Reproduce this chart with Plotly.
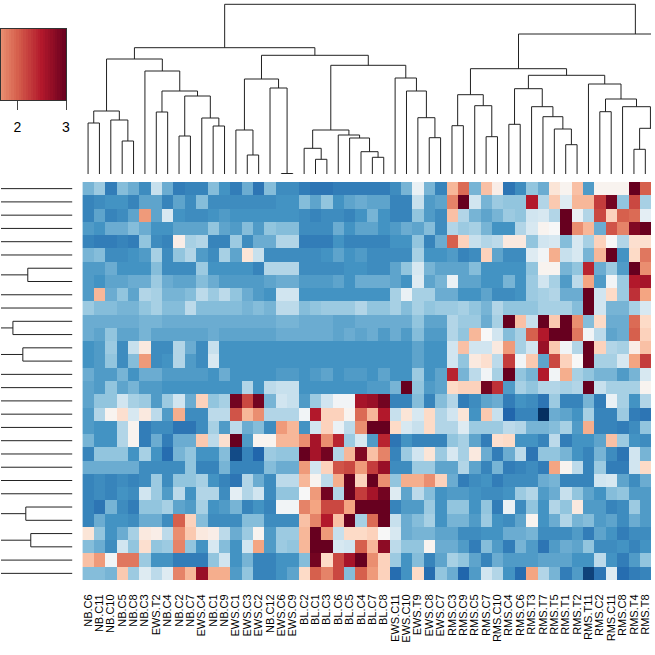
import plotly.graph_objects as go

# column labels, left to right
samples = ["NB.C6", "NB.C11", "NB.C10", "NB.C5", "NB.C8", "NB.C3", "EWS.T2", "NB.C4", "NB.C2", "NB.C7",
           "EWS.C4", "NB.C1", "NB.C9", "EWS.C1", "EWS.C3", "EWS.C2", "NB.C12", "EWS.C6", "EWS.C9", "BL.C2",
           "BL.C1", "BL.C3", "BL.C6", "BL.C5", "BL.C4", "BL.C7", "BL.C8", "EWS.C11", "EWS.C10", "EWS.T9",
           "EWS.C8", "EWS.C7", "RMS.C3", "RMS.C9", "RMS.C5", "RMS.C7", "RMS.C10", "RMS.C4", "RMS.C6", "RMS.T3",
           "RMS.T7", "RMS.T5", "RMS.T1", "RMS.T2", "RMS.T11", "RMS.C2", "RMS.C11", "RMS.C8", "RMS.T4", "RMS.T8"]

# cell shades read off the picture as steps of the palette (-3 darkest blue, 3 darkest red)
# 30 rows, columns 0-16
values_left = [
    [-1.4,-1.1,-2.1,-1.3,-1.5,-1.9,-0.7,-1.5,-2.1,-2.0,-2.0,-1.3,-1.8,-2.1,-1.5,-2.2,-1.3],
    [-2.0,-1.9,-1.8,-1.8,-2.0,-1.6,-1.6,-2.0,-1.6,-1.9,-1.3,-1.9,-1.9,-1.9,-1.9,-1.9,-1.9],
    [-2.0,-1.6,-2.0,-1.9,-1.6,1.3,-1.6,-0.5,-1.8,-1.9,-1.9,-1.8,-1.7,-1.8,-1.8,-1.8,-1.8],
    [-1.7,-1.8,-1.5,-1.5,-1.3,-1.5,-1.8,-1.8,-1.6,-1.6,-1.6,-1.2,-1.6,-1.7,-1.3,-1.7,-1.2],
    [-2.0,-2.1,-2.1,-2.0,-2.1,-1.2,-1.9,-2.0,0.2,-1.0,-0.9,-2.0,-2.0,-1.1,-1.9,-1.5,-1.5],
    [-1.4,-1.3,-1.9,-1.9,-1.8,-1.7,-1.0,-1.9,-1.2,-0.9,-1.7,-1.9,-1.0,-1.6,0.4,-0.7,-1.9],
    [-1.7,-1.7,-1.5,-1.8,-1.8,-1.8,-1.3,-1.9,-1.9,-1.9,-1.1,-1.8,-1.8,-1.8,-1.8,-2.0,-0.9],
    [-1.7,-1.8,-1.6,-1.6,-1.5,-1.5,-1.1,-1.5,-1.6,-1.6,-1.3,-1.5,-1.7,-1.7,-1.7,-1.7,-1.6],
    [-1.7,1.0,-1.5,-1.2,-1.6,-0.9,-1.0,-1.4,-1.4,-1.3,-0.8,-1.1,-0.8,-1.2,-1.5,-1.7,-1.8],
    [-1.1,-1.3,-1.3,-1.4,-1.4,-1.2,-1.0,-1.3,-1.3,-0.8,-1.3,-1.3,-1.3,-1.3,-1.4,-1.3,-1.4],
    [-1.5,-1.5,-1.5,-1.5,-1.5,-1.4,-1.4,-1.5,-1.5,-1.5,-1.5,-1.5,-1.5,-1.5,-1.5,-1.5,-1.5],
    [-1.5,-1.6,-1.2,-1.6,-1.6,-1.4,-1.6,-1.6,-1.6,-1.6,-1.6,-1.5,-1.6,-1.6,-1.6,-1.6,-1.6],
    [-1.8,-1.7,-1.1,-1.9,-0.7,0.3,-1.9,-1.9,-0.9,-1.5,-1.9,-0.7,-1.8,-1.8,-1.8,-1.8,-1.8],
    [-1.8,-1.7,-1.2,-1.9,-1.3,1.3,-1.9,-1.8,-0.9,-1.7,-1.9,-0.5,-1.8,-1.8,-1.8,-1.8,-1.8],
    [-1.5,-1.7,-1.7,-1.4,-1.8,-1.5,-1.5,-1.7,-1.7,-1.7,-1.7,-1.8,-1.5,-1.8,-1.8,-1.8,-1.8],
    [-1.6,-1.7,-1.2,-1.6,-1.4,-1.7,-1.7,-1.8,-1.8,-1.8,-1.8,-1.8,-1.8,-1.8,-0.9,-1.8,-0.8],
    [-1.6,-1.2,-1.2,-0.6,-1.0,-1.1,-1.7,-1.1,-0.6,-1.5,0.7,-1.2,-1.0,2.9,2.0,2.9,-1.4],
    [-1.7,-0.9,0.1,0.5,-0.5,0.3,-0.8,-1.7,1.1,-1.9,-1.9,-0.8,-0.8,1.9,1.0,1.4,-0.9],
    [-1.7,-1.8,-1.8,-0.9,0.1,-2.1,-1.9,-1.9,-2.2,-2.2,-1.9,-1.0,-1.7,-0.8,-1.5,-1.3,-1.9],
    [-1.4,-1.8,-1.8,-0.9,0.1,-2.1,-1.5,-2.1,-1.5,-1.5,0.8,-0.8,0.5,3.0,-1.7,0.1,0.1],
    [-2.0,-1.2,-1.2,-1.2,-1.8,-1.0,-1.8,-2.3,-1.4,-1.2,-1.8,-1.8,-1.3,-2.7,-2.0,-2.4,-1.1],
    [-1.5,-1.5,-1.5,-1.5,-1.5,-1.9,-1.9,-1.9,-1.9,-1.2,-2.0,-2.0,-1.4,-2.0,-2.0,-2.0,-1.3],
    [-2.0,-1.9,-2.0,-1.9,-2.0,-1.9,-1.1,-1.9,-1.2,-1.2,-1.0,-1.8,-2.0,-2.2,-0.9,-1.5,-1.9],
    [-2.0,-1.9,-2.0,-1.8,-1.9,-0.6,-1.1,-1.7,-0.8,-1.8,-0.9,-0.9,-1.9,-0.3,-0.9,-0.6,-1.9],
    [-2.0,-2.2,-1.4,-1.9,-2.1,-1.2,-1.2,-1.0,-1.6,-1.7,-1.0,-1.8,-1.7,-1.4,-2.0,-1.8,-2.0],
    [-2.0,-1.5,-1.8,-1.8,-1.9,-1.5,-1.5,-1.9,1.8,0.7,-1.3,-1.9,-1.9,-1.9,-1.3,-1.3,-1.9],
    [0.4,-1.2,-1.8,-1.5,-1.0,0.3,0.2,-0.8,1.4,0.8,0.3,0.2,-0.8,-1.5,-1.1,0.1,-1.7],
    [-1.3,-1.5,-1.9,-0.6,-1.2,0.5,-1.2,-1.1,1.5,-1.2,-1.8,-0.5,-1.3,-1.8,-0.6,1.2,-1.7],
    [0.9,1.3,-0.1,1.6,1.6,-1.1,-1.8,-1.8,-2.1,-2.1,-2.1,-1.2,-0.6,-1.8,-1.4,-2.0,-2.0],
    [-1.3,-1.3,-1.4,0.8,-1.1,-0.4,-0.8,-0.4,1.5,1.0,2.6,1.1,1.1,-1.7,-1.2,-2.0,-2.0],
]

# columns 17-32
values_mid = [
    [-1.9,-1.9,-2.1,-2.2,-2.2,-2.1,-2.1,-2.1,-2.1,-2.1,-1.9,-1.4,-0.2,-1.4,-2.0,1.0],
    [-1.8,-1.8,-1.3,-1.6,-1.2,-1.8,-1.6,-1.5,-1.6,-1.6,-2.0,-2.0,-0.7,-1.7,-1.6,1.5],
    [-1.8,-1.8,-1.9,-2.0,-1.9,-1.9,-2.0,-1.8,-1.4,-1.8,-2.0,-2.0,-1.2,-1.7,-1.9,0.9],
    [-1.3,-1.3,-1.9,-1.9,-1.9,-1.5,-1.8,-1.6,-1.6,-1.8,-1.7,-1.5,-1.6,-1.3,-1.9,-0.9],
    [-0.9,-0.9,-2.1,-2.1,-2.1,-1.8,-2.0,-2.0,-2.0,-2.0,-1.8,-1.8,-1.2,-2.0,-1.5,1.8],
    [-1.9,-1.9,-1.9,-1.9,-1.8,-1.6,-1.8,-1.7,-1.9,-1.9,-1.9,-1.9,-1.0,-1.8,-1.8,-1.7],
    [-0.9,-0.9,-1.9,-1.9,-1.9,-1.9,-1.8,-1.8,-1.9,-1.9,-1.6,-1.2,-0.5,-1.4,-1.6,-1.6],
    [-1.5,-1.5,-1.7,-1.7,-1.7,-1.6,-1.8,-1.5,-1.5,-1.5,-1.6,-1.8,-0.4,-1.6,-1.4,-0.2],
    [-0.6,-0.6,-1.8,-1.8,-1.8,-1.8,-1.8,-1.8,-1.8,-1.8,-1.0,-0.2,-1.0,-1.0,-1.5,-1.5],
    [-0.8,-0.8,-1.3,-1.2,-1.1,-1.1,-1.1,-0.9,-1.2,-1.2,-1.0,-1.3,-1.0,-1.2,-1.1,-1.1],
    [-1.4,-1.4,-1.5,-1.5,-1.5,-1.6,-1.6,-1.5,-1.5,-1.5,-1.5,-1.5,-1.2,-1.6,-1.6,-0.9],
    [-1.5,-1.5,-1.5,-1.5,-1.5,-1.6,-1.5,-1.6,-1.5,-1.7,-1.5,-1.7,-1.3,-1.7,-1.7,-0.9],
    [-1.8,-1.8,-1.8,-1.8,-1.8,-1.8,-1.8,-1.8,-1.8,-1.8,-1.8,-1.8,-1.6,-1.8,-1.8,-0.6],
    [-1.8,-1.8,-1.8,-1.8,-1.8,-1.8,-1.8,-1.8,-1.8,-1.8,-1.8,-1.8,-1.6,-1.8,-1.8,-0.6],
    [-1.7,-1.7,-1.8,-1.7,-1.6,-1.8,-1.7,-1.7,-1.8,-1.6,-1.8,-1.8,-1.1,-1.8,-1.6,2.3],
    [-0.7,-0.7,-1.8,-1.8,-1.8,-1.8,-1.8,-1.8,-1.7,-1.7,-1.4,3.0,-1.2,-1.7,-1.6,0.6],
    [-0.6,-0.7,-1.7,-1.1,-0.6,-0.1,-0.1,2.5,2.6,2.9,-2.0,-2.0,-1.3,-2.0,-1.3,-0.9],
    [-0.9,-0.9,-0.1,2.4,0.7,0.7,0.1,1.7,1.0,2.4,-0.7,0.4,-0.5,0.6,-0.9,-0.6],
    [1.3,1.0,-1.8,-0.6,0.7,-0.2,-0.8,1.4,3.0,3.0,0.6,-0.5,-0.7,0.6,-0.9,-0.9],
    [1.0,1.0,1.4,2.5,1.4,2.3,-1.1,-0.5,-1.7,2.3,-2.2,-1.8,-2.0,-2.0,-2.0,-1.2],
    [-1.2,-1.2,3.0,2.5,2.9,-0.9,1.0,2.8,0.9,1.5,-2.0,-1.1,-0.6,0.4,-1.1,-0.5],
    [-1.5,-1.5,1.3,-0.6,0.7,1.9,2.0,1.3,2.1,2.6,-1.9,-1.9,-1.1,-1.1,-1.6,-1.6],
    [-0.8,-0.8,1.0,0.1,-0.8,1.1,3.0,0.7,3.0,1.4,-1.2,1.1,1.1,1.4,0.7,-1.5],
    [-1.2,-1.2,0.0,1.3,2.9,-0.9,3.0,2.1,2.5,2.9,-0.4,-1.6,-0.8,-1.3,-1.8,-1.7],
    [-0.1,-0.1,1.5,1.2,2.0,2.0,1.2,3.0,3.0,3.0,-2.0,-1.7,-1.7,-1.1,-1.8,-1.2],
    [-1.9,-1.9,0.9,1.5,2.4,0.9,3.0,-1.0,1.7,3.0,-0.7,-1.5,-1.3,-1.0,-1.8,-1.4],
    [-1.1,-1.1,1.0,3.0,1.3,-0.7,0.6,0.6,0.7,0.0,-0.5,-1.5,-1.4,-1.4,-1.6,-1.6],
    [-1.1,-1.2,1.0,3.0,3.0,-0.5,-0.6,1.8,1.0,2.7,-0.8,-1.2,-1.2,0.1,-1.5,-1.5],
    [-1.8,-1.8,-1.3,2.9,0.6,2.0,2.5,3.0,1.4,0.7,-1.1,-1.8,-1.3,-2.0,-1.6,-1.0],
    [-1.8,-1.6,0.6,1.8,1.5,2.0,-1.3,1.8,1.3,0.7,-2.3,-1.8,0.6,-2.3,-1.2,-1.5],
]

# columns 33-49
values_right = [
    [1.7,-1.4,0.9,0.2,-2.2,-1.9,-1.2,-1.5,0.4,0.1,0.9,-1.7,0.1,0.1,0.1,3.0,1.8],
    [3.0,-0.6,-1.4,-1.1,-1.2,-1.2,2.4,-0.9,0.8,-0.4,1.0,1.0,2.1,2.9,-1.2,2.0,-1.0],
    [-0.9,-1.4,-1.6,-1.4,-1.1,-1.2,-0.6,-0.5,-0.9,3.0,-0.2,-0.9,2.0,0.7,1.8,1.7,-0.3],
    [-1.1,-1.0,-1.4,-1.8,-1.8,-0.9,-0.5,0.1,0.0,3.0,1.4,1.0,-1.5,1.9,1.5,2.8,3.0],
    [0.7,-0.7,-0.9,-0.8,0.3,0.3,-1.2,-0.6,-0.5,-1.3,-0.5,-1.0,0.7,0.0,-0.9,0.5,0.5],
    [-2.0,-1.9,0.7,-1.6,-1.9,-1.9,-0.4,-0.1,1.1,-0.7,-0.5,-1.4,1.0,3.0,-1.8,0.6,1.6],
    [-1.6,-1.3,-1.8,-1.8,-1.8,-1.8,-1.2,0.1,0.1,-1.4,-1.2,2.3,-1.5,-1.1,-1.7,3.0,1.4],
    [-1.6,-1.6,-1.8,-1.8,-1.4,-1.8,-1.1,-0.6,-1.0,-1.7,-0.8,1.2,-1.7,-0.1,-1.1,2.4,2.5],
    [-1.8,-1.8,-1.6,-1.9,-1.9,-1.8,-1.1,-1.0,-0.9,-1.5,-1.5,3.0,-0.6,0.6,-1.1,2.2,1.2],
    [-1.0,-1.2,-1.4,-0.9,-1.2,-1.2,-1.2,-1.0,-1.0,-1.0,-1.3,3.0,-0.6,-1.4,-1.4,-1.0,-0.5],
    [-1.1,-1.1,-1.5,-1.0,3.0,0.9,-0.7,3.0,0.8,3.0,1.4,-1.3,0.6,-1.5,-1.5,1.7,0.6],
    [-1.2,1.0,0.0,-0.6,-1.3,-1.0,1.8,2.4,3.0,3.0,1.6,-0.1,-0.8,-1.6,-1.5,1.8,0.7],
    [0.9,-0.6,-0.6,0.3,1.3,-1.0,-0.6,2.6,0.8,-0.1,-0.9,3.0,0.7,-0.9,-1.0,0.2,0.9],
    [-1.2,0.3,0.5,-0.8,2.1,-0.1,0.8,-1.6,2.0,0.7,0.0,3.0,-1.0,-1.0,-0.5,1.2,2.1],
    [-1.4,-0.8,-0.1,-1.0,3.0,-1.2,-1.4,2.4,-0.1,1.1,-1.0,-1.2,-1.4,-1.4,-1.7,-1.4,-0.5],
    [0.7,0.7,2.9,2.2,-1.7,-1.0,-1.2,-0.9,-0.9,-1.0,-0.9,3.0,-0.7,-1.0,-1.0,-1.0,0.1],
    [-2.1,-1.9,-1.6,-1.5,-2.1,-1.8,-1.9,-2.2,-1.1,-2.0,-2.0,-1.4,-2.1,-0.2,-1.0,-1.8,-0.9],
    [0.4,-1.8,0.8,-0.7,-2.4,-2.0,-2.0,-3.0,-1.5,-1.6,-1.8,-1.0,-2.0,-2.0,-1.1,-2.1,-2.2],
    [-0.4,-1.1,-1.1,-1.1,-0.8,-0.9,-1.4,-1.4,-1.3,-1.0,-1.7,1.1,-2.0,-2.0,-2.1,-1.9,-1.2],
    [-1.0,-1.6,-2.1,0.5,0.6,-1.8,-1.8,-2.0,-0.8,-2.1,-1.8,-1.8,-1.6,0.9,-1.1,-1.8,-1.9],
    [-1.0,0.3,-1.5,-2.1,-1.5,-0.8,-2.2,-1.2,-1.2,-1.4,-1.8,-2.0,-1.4,-1.9,-2.2,-0.6,-1.4],
    [-0.9,-1.6,-2.0,-1.4,-2.1,-2.0,-1.9,-2.1,1.2,0.1,-0.8,-2.0,-1.1,-2.1,-2.1,-0.6,0.6],
    [-2.1,-1.9,-1.8,-2.1,-1.9,-1.9,-1.9,-1.5,-1.4,-2.0,-2.0,-2.0,-0.6,-0.5,-1.6,-1.9,-1.5],
    [-1.7,-1.8,-1.9,-1.9,-1.8,-1.1,-0.9,-1.7,-1.5,-0.7,-1.2,-1.6,-1.8,-1.3,-1.2,-1.7,-1.7],
    [-1.2,-1.8,-1.2,-2.1,-0.2,-1.9,-1.2,-1.8,-0.9,-1.2,0.3,-1.7,-1.7,-2.0,-1.9,-1.1,-1.7],
    [-1.4,-1.7,-1.1,-1.8,-1.9,-1.6,0.1,-1.8,-1.5,-0.9,-1.4,-1.3,-1.7,-1.6,-1.9,-1.5,-1.7],
    [-1.9,-1.9,-1.8,-1.8,-1.5,-1.5,-1.4,-1.9,-1.9,-1.9,-1.7,-2.1,-1.6,-1.8,-2.1,-1.9,-1.9],
    [-1.7,-2.1,-1.3,-1.7,-2.1,-1.4,-1.7,-2.2,-1.7,-1.5,-1.6,-1.2,-1.9,-1.9,-1.8,-2.0,-1.8],
    [-1.2,-1.6,-2.0,-1.5,-1.7,-1.7,-1.7,-1.6,-1.6,-1.6,-1.8,-1.8,-0.8,-1.8,-2.1,-1.7,-1.2],
    [-2.4,-1.7,-0.6,-0.9,-1.8,-2.3,1.2,-0.9,-1.4,-2.1,-1.7,-2.8,-2.2,-0.4,-2.3,-2.1,-2.0],
]

# column tree. Leaf positions: 0-49 are the visible columns, the last two are
# clusters that sit past the right edge of the picture. Ids from 52 up are merges.
col_leaf_pos = list(range(50)) + [50.4, 58.4]
col_merge_a = [0, 3, 2, 52, 6, 8, 11, 10, 57, 56, 5, 55, 14, 13, 17, 16, 65,
               20, 19, 25, 24, 23, 22, 70, 30, 29, 28, 27, 75, 68, 63,
               32, 35, 34, 83, 37, 42, 41, 40, 39, 87, 45, 48, 94, 47, 93, 44, 92, 86, 100, 82]
col_merge_b = [1, 4, 53, 54, 7, 9, 12, 58, 59, 60, 61, 62, 15, 64, 18, 66, 67,
               21, 69, 26, 71, 72, 73, 74, 31, 76, 77, 78, 79, 80, 81,
               33, 36, 84, 85, 38, 43, 88, 89, 90, 91, 46, 49, 50, 95, 96, 97, 98, 99, 51, 101]
col_merge_h = [51, 33, 54, 63, 62, 38, 48, 56, 78, 83, 103, 115, 19, 44, 0.5, 86, 95,
               14.7, 25.7, 16.7, 22.3, 36, 39, 44, 36.3, 56.3, 83, 96, 108.7, 118.7, 126.3,
               48.3, 37.3, 68.3, 79.3, 49.7, 29.3, 45, 57.3, 67.3, 85.3, 62.3, 24.7, 45.7, 67.3, 75, 90, 98.7,
               105.3, 140, 169.7]

# row tree, only the merges that fall inside the picture; the rest runs off to the left
row_leaf_pos = list(range(30))
row_merge_a = [6, 10, 12, 26, 24]
row_merge_b = [7, 11, 13, 27, 25]
row_merge_h = [45, 60, 50, 42, 47]


def tree_paths(leaf_pos, merge_a, merge_b, merge_h, stub=None):
    n = len(leaf_pos)
    pos = {i: float(p) for i, p in enumerate(leaf_pos)}
    hgt = {i: 0.0 for i in range(n)}
    used = set()
    xs, ys = [], []
    for k, (a, b, h) in enumerate(zip(merge_a, merge_b, merge_h)):
        xs += [pos[a], pos[a], pos[b], pos[b], None]
        ys += [hgt[a], h, h, hgt[b], None]
        pos[n + k] = (pos[a] + pos[b]) / 2
        hgt[n + k] = h
        used.update([a, b])
    if stub is not None:
        for i in pos:
            if i not in used:
                xs += [pos[i], pos[i], None]
                ys += [hgt[i], stub, None]
    return xs, ys


# the key runs from about -2 to 3 with white at 0.5, so shade steps are rescaled to key units
matrix = [[round(0.5 + v * 2.5 / 3, 2) for v in a + b + c] for a, b, c in zip(values_left, values_mid, values_right)]

rdbu = ["#053061", "#2166AC", "#4393C3", "#92C5DE", "#D1E5F0", "#F7F7F7",
        "#FDDBC7", "#F4A582", "#D6604D", "#B2182B", "#67001F"]
colorscale = [[i / 10, c] for i, c in enumerate(rdbu)]

key_levels = [1.65, 1.7, 1.75, 1.8, 1.85, 1.9, 1.95, 2.0, 2.05, 2.1, 2.15, 2.2, 2.25, 2.3, 2.35, 2.4,
              2.45, 2.5, 2.55, 2.6, 2.65, 2.7, 2.75, 2.8, 2.85, 2.9, 2.95, 3.0]

fig = go.Figure()
fig.add_trace(go.Heatmap(z=matrix, x=list(range(50)), y=list(range(30)), zmin=-2, zmax=3,
                         colorscale=colorscale, showscale=False))
fig.add_trace(go.Heatmap(z=[key_levels], x=key_levels, zmin=-2, zmax=3, colorscale=colorscale,
                         showscale=False, xaxis="x3", yaxis="y3"))

tx, ty = tree_paths(col_leaf_pos, col_merge_a, col_merge_b, col_merge_h)
fig.add_trace(go.Scatter(x=tx, y=ty, mode="lines", line=dict(color="#222222", width=1),
                         xaxis="x2", yaxis="y2", hoverinfo="skip"))

ry, rx = tree_paths(row_leaf_pos, row_merge_a, row_merge_b, row_merge_h, stub=90)
fig.add_trace(go.Scatter(x=rx, y=ry, mode="lines", line=dict(color="#222222", width=1),
                         xaxis="x4", yaxis="y4", hoverinfo="skip"))

fig.update_layout(
    width=655, height=655, margin=dict(l=0, r=0, t=0, b=0), showlegend=False,
    paper_bgcolor="white", plot_bgcolor="white",
    font=dict(family="Liberation Sans", color="black"),
    xaxis=dict(domain=[82 / 655, 1], range=[-0.5, 49.5], tickmode="array", tickvals=list(range(50)),
               ticktext=samples, tickangle=-90, tickfont=dict(size=11), ticks="outside", ticklen=9,
               tickcolor="rgba(0,0,0,0)", showgrid=False, zeroline=False, showline=False),
    yaxis=dict(domain=[75 / 655, 473 / 655], range=[29.5, -0.5], showticklabels=False, ticks="",
               showgrid=False, zeroline=False),
    xaxis2=dict(domain=[82 / 655, 1], range=[-0.5, 49.5], visible=False, anchor="y2"),
    yaxis2=dict(domain=[481 / 655, 1], range=[0, 174], visible=False, anchor="x2"),
    xaxis3=dict(domain=[0, 65.5 / 655], range=[1.663, 3], tickmode="array", tickvals=[2, 3], ticktext=["2", "3"],
                ticks="outside", ticklen=9, tickwidth=1, tickcolor="#444444", ticklabelstandoff=5,
                tickfont=dict(size=14), showline=True,
                mirror=True, linecolor="#333333", linewidth=1, showgrid=False, zeroline=False, anchor="y3"),
    yaxis3=dict(domain=[555 / 655, 626 / 655], showticklabels=False, ticks="", showline=True, mirror=True,
                linecolor="#333333", linewidth=1, showgrid=False, zeroline=False, anchor="x3"),
    xaxis4=dict(domain=[0, 72 / 655], range=[72, 0], visible=False, anchor="y4"),
    yaxis4=dict(domain=[75 / 655, 473 / 655], range=[29.5, -0.5], visible=False, anchor="x4"),
)

fig.write_html("out.html", config={"displayModeBar": False}, post_script="document.body.style.margin='0';")
